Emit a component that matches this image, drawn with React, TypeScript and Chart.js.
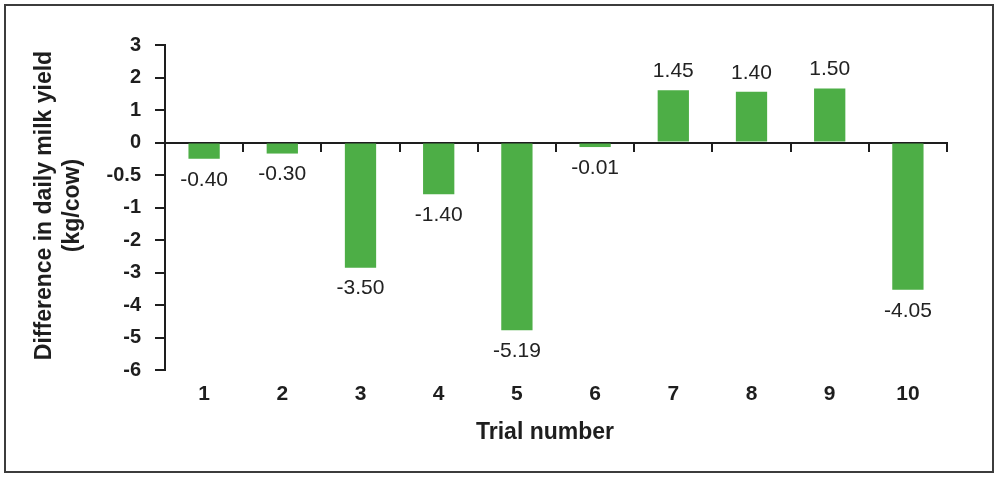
import React, { useEffect, useRef } from 'react';
import { Chart, registerables } from 'chart.js';

Chart.register(...registerables);

const trials = ['1', '2', '3', '4', '5', '6', '7', '8', '9', '10'];
// bar lengths as drawn, in axis units
const barHeights = [-0.5, -0.34, -3.85, -1.59, -5.78, -0.14, 1.61, 1.56, 1.66, -4.53];
// value labels printed next to the bars
const valueLabels = ['-0.40', '-0.30', '-3.50', '-1.40', '-5.19', '-0.01', '1.45', '1.40', '1.50', '-4.05'];
// tick labels on the y axis, from top (3) to bottom (-7 axis unit)
const yTickLabels = ['3', '2', '1', '0', '-0.5', '-1', '-2', '-3', '-4', '-5', '-6'];
const yTitle = ['Difference in daily milk yield', '(kg/cow)'];
const xTitle = 'Trial number';

const FONT = '"Liberation Sans", Arial, Helvetica, sans-serif';
const INK = '#1e1e1e';
const BAR = '#4dae46';

const labelsPlugin = {
  id: 'customLabels',
  afterDraw(chart: any) {
    const ctx = chart.ctx as CanvasRenderingContext2D;
    const meta = chart.getDatasetMeta(0);
    ctx.save();
    ctx.fillStyle = '#222';
    ctx.font = `21px ${FONT}`;
    ctx.textAlign = 'center';
    ctx.textBaseline = 'middle';
    meta.data.forEach((el: any, i: number) => {
      const v = barHeights[i];
      const y = v < 0 ? el.y + 21 : el.y - 19;
      ctx.fillText(valueLabels[i], el.x, y);
    });
    const area = chart.chartArea;
    // y title
    ctx.font = `bold 23px ${FONT}`;
    ctx.fillStyle = INK;
    ctx.translate(45, (area.top + area.bottom) / 2 - 2);
    ctx.rotate(-Math.PI / 2);
    ctx.fillText(yTitle[0], 0, 0);
    ctx.fillText(yTitle[1], 0, 28);
    ctx.restore();
    // x title
    ctx.save();
    ctx.font = `bold 23px ${FONT}`;
    ctx.fillStyle = INK;
    ctx.textAlign = 'center';
    ctx.textBaseline = 'middle';
    ctx.fillText(xTitle, (area.left + area.right) / 2 - 11, 433);
    ctx.restore();
  },
};

export default function App() {
  const ref = useRef<HTMLCanvasElement | null>(null);
  useEffect(() => {
    if (!ref.current) return;
    const chart = new Chart(ref.current, {
      type: 'bar',
      data: {
        labels: trials,
        datasets: [
          {
            data: barHeights,
            backgroundColor: BAR,
            borderWidth: 0,
            barPercentage: 0.4,
            categoryPercentage: 1,
            xAxisID: 'x',
            yAxisID: 'y',
          },
        ],
      },
      options: {
        animation: false,
        responsive: false,
        devicePixelRatio: 1,
        layout: { padding: { top: 45, right: 51, left: 0, bottom: 0 } },
        plugins: { legend: { display: false }, tooltip: { enabled: false } },
        scales: {
          x: {
            type: 'category',
            position: 'bottom',
            offset: true,
            grid: { display: false, drawTicks: false },
            border: { display: false },
            ticks: {
              color: INK,
              font: { family: FONT, size: 21, weight: 'bold' },
              padding: 12,
              maxRotation: 0,
              autoSkip: false,
            },
            afterFit: (s: any) => {
              s.height = 107;
            },
          },
          x2: {
            type: 'category',
            position: { y: 0 } as any,
            offset: true,
            grid: {
              display: true,
              offset: true,
              drawOnChartArea: false,
              drawTicks: true,
              tickLength: 8,
              color: INK,
              lineWidth: 2,
            },
            border: { display: true, color: INK, width: 2 },
            ticks: { display: false },
          },
          y: {
            type: 'linear',
            min: -7,
            max: 3,
            grid: {
              display: true,
              drawOnChartArea: false,
              drawTicks: true,
              tickLength: 10,
              color: INK,
              lineWidth: 2,
            },
            border: { display: true, color: INK, width: 2 },
            ticks: {
              stepSize: 1,
              autoSkip: false,
              color: INK,
              padding: 14,
              font: { family: FONT, size: 20, weight: 'bold' },
              callback: (v: any) => yTickLabels[3 - Math.round(Number(v))] ?? '',
            },
            afterFit: (s: any) => {
              s.width = 165;
            },
          },
        },
      },
      plugins: [labelsPlugin],
    });
    return () => chart.destroy();
  }, []);

  return (
    <div style={{ position: 'fixed', left: 0, top: 0, width: 998, height: 477, background: '#fff' }}>
      <div
        style={{
          position: 'absolute',
          left: 4,
          top: 4,
          width: 986,
          height: 465,
          border: '2px solid #3c3c3c',
        }}
      />
      <canvas ref={ref} width={998} height={477} style={{ position: 'absolute', left: 0, top: 0 }} />
    </div>
  );
}
